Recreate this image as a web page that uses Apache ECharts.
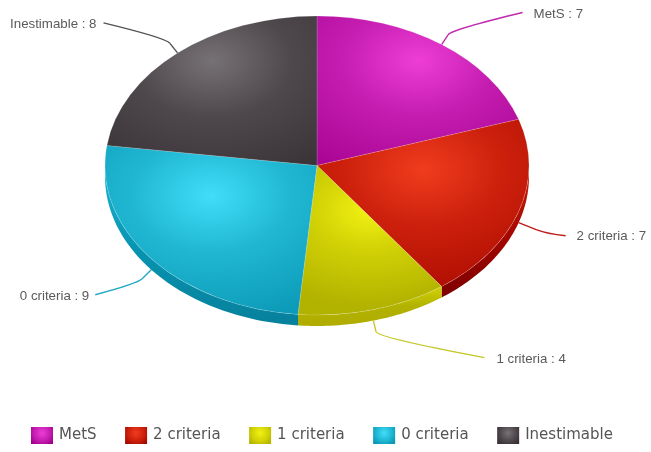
<!DOCTYPE html>
<html>
<head>
<meta charset="utf-8">
<style>html,body{margin:0;padding:0;background:#fff}#chart{width:651px;height:452px}</style>
<script src="https://cdn.jsdelivr.net/npm/echarts@6/dist/echarts.min.js"></script>
</head>
<body>
<div id="chart"></div>
<script>
// Group sizes
const categories = ['MetS', '2 criteria', '1 criteria', '0 criteria', 'Inestimable'];
const counts = [7, 7, 4, 9, 8];

// Slice shading: highlight, midtone, rim, side wall bottom, leader line
const highlight = ['#ee3dd6', '#f03c1e', '#f2f214', '#40def9', '#767175'];
const midtone = ['#c41db0', '#cc200c', '#d2d206', '#20b6d2', '#4e484c'];
const rim = ['#a4008e', '#a60800', '#b2b200', '#0795b2', '#352f33'];
const wallBottom = ['#70005f', '#7c0000', '#b0ac00', '#07809c', '#1f1b1e'];
const leaderColor = ['#c02bb0', '#c01a18', '#c6c62a', '#22a9c8', '#555053'];

// Ellipse geometry of the tilted disc
const disc = { cx: 317, cy: 165.5, rx: 212, ry: 149.5, depth: 11 };

// Leader routing relative to the rim point: knee, end of the line, label gap
const leaderLayout = [
  { knee: [10, -15], end: [81, -32], gap: 11, align: 'left', drop: 0, dy: 2 },
  { knee: [28, 11], end: [47, 13], gap: 11, align: 'left', drop: 1, dy: 1 },
  { knee: [4, 17], end: [111, 37], gap: 12, align: 'left', drop: 1, dy: 2 },
  { knee: [-14, 14], end: [-56, 25], gap: 6, align: 'right', drop: 1, dy: 2 },
  { knee: [-12, -15], end: [-74, -30], gap: 7, align: 'right', drop: 0, dy: 1 }
];

const total = counts.reduce((a, b) => a + b, 0);
const TAU = Math.PI * 2;

// Clockwise angle from the top of the disc where a slice begins
function startOf(index) {
  let sum = 0;
  for (let i = 0; i < index; i++) sum += counts[i];
  return (sum / total) * TAU;
}

function rimPoint(angle, drop) {
  return [
    disc.cx + Math.sin(angle) * disc.rx,
    disc.cy - Math.cos(angle) * disc.ry + (drop || 0)
  ];
}

// Visible outer wall of a slice: the lower half of the rim, pushed down by the depth
function wallPoints(a0, a1) {
  const from = Math.max(a0, Math.PI / 2);
  const to = Math.min(a1, Math.PI * 1.5);
  if (from >= to) return null;
  const upper = [];
  const lower = [];
  const steps = 60;
  for (let s = 0; s <= steps; s++) {
    const a = from + ((to - from) * s) / steps;
    upper.push(rimPoint(a));
    lower.unshift(rimPoint(a, disc.depth));
  }
  return upper.concat(lower);
}

function sliceRenderer(index) {
  return function (params, api) {
    const value = api.value(0);
    const a0 = startOf(index);
    const a1 = a0 + (value / total) * TAU;
    const mid = (a0 + a1) / 2;
    const children = [];

    const wall = wallPoints(a0, a1);
    if (wall) {
      children.push({
        type: 'polygon',
        z2: 1,
        shape: { points: wall },
        style: {
          fill: new echarts.graphic.LinearGradient(0, 0, 0, 1, [
            { offset: 0, color: midtone[index] },
            { offset: 0.5, color: rim[index] },
            { offset: 1, color: wallBottom[index] }
          ])
        }
      });
    }

    children.push({
      type: 'group',
      x: disc.cx,
      y: disc.cy,
      scaleY: disc.ry / disc.rx,
      children: [{
        type: 'sector',
        z2: 5,
        shape: {
          cx: 0, cy: 0, r0: 0, r: disc.rx,
          startAngle: a0 - Math.PI / 2,
          endAngle: a1 - Math.PI / 2,
          clockwise: true
        },
        style: {
          fill: new echarts.graphic.RadialGradient(0.5, 0.3, 0.95, [
            { offset: 0, color: highlight[index] },
            { offset: 0.4, color: midtone[index] },
            { offset: 1, color: rim[index] }
          ]),
          stroke: 'rgba(255,255,255,0.18)',
          lineWidth: 1
        }
      }]
    });

    const lay = leaderLayout[index];
    const start = rimPoint(mid, lay.drop ? disc.depth : 0);
    const knee = [start[0] + lay.knee[0], start[1] + lay.knee[1]];
    const end = [start[0] + lay.end[0], start[1] + lay.end[1]];
    const bend = 0.35;
    const into = [start[0] + lay.knee[0] * (1 - bend), start[1] + lay.knee[1] * (1 - bend)];
    const leaderStyle = { stroke: leaderColor[index], lineWidth: 1.4, fill: null };
    children.push({
      type: 'line', z2: 2,
      shape: { x1: start[0], y1: start[1], x2: into[0], y2: into[1] },
      style: leaderStyle
    });
    children.push({
      type: 'bezierCurve', z2: 2,
      shape: { x1: into[0], y1: into[1], cpx1: knee[0], cpy1: knee[1], x2: end[0], y2: end[1] },
      style: leaderStyle
    });
    children.push({
      type: 'text', z2: 6,
      x: end[0] + (lay.align === 'left' ? lay.gap : -lay.gap),
      y: end[1] + lay.dy,
      style: {
        text: categories[index] + ' : ' + value,
        fill: '#5a5a5a',
        font: '13.3px "Liberation Sans", Arial, sans-serif',
        align: lay.align,
        verticalAlign: 'middle'
      }
    });
    return { type: 'group', children: children };
  };
}

const chart = echarts.init(document.getElementById('chart'), null, { renderer: 'canvas' });
chart.setOption({
  animation: false,
  backgroundColor: '#ffffff',
  legend: {
    show: true,
    bottom: 3,
    left: 26,
    itemWidth: 22,
    itemHeight: 17,
    itemGap: 28.5,
    icon: 'rect',
    selectedMode: false,
    textStyle: { color: '#555555', fontFamily: '"DejaVu Sans", sans-serif', fontSize: 15, padding: [0, 0, 0, 1] },
    data: categories.map((name, i) => ({
      name: name,
      itemStyle: {
        color: new echarts.graphic.RadialGradient(0.5, 0.35, 0.8, [
          { offset: 0, color: highlight[i] },
          { offset: 0.6, color: midtone[i] },
          { offset: 1, color: rim[i] }
        ])
      }
    }))
  },
  series: categories.map((name, i) => ({
    type: 'custom',
    name: name,
    coordinateSystem: 'none',
    silent: true,
    data: [[counts[i]]],
    renderItem: sliceRenderer(i)
  }))
});
</script>
</body>
</html>
